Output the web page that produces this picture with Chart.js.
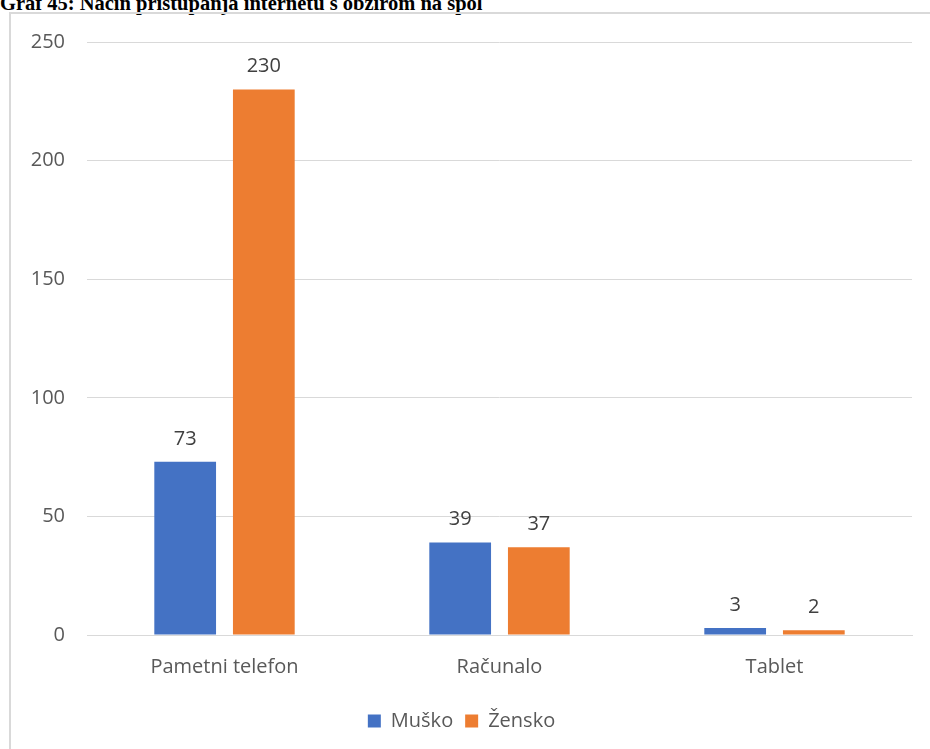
<!DOCTYPE html>
<html>
<head>
<meta charset="utf-8">
<script src="https://cdn.jsdelivr.net/npm/chart.js@4"></script>
<style>
  body { margin: 0; background: #fff; width: 930px; height: 749px; overflow: hidden; position: relative; }
  #title { position: absolute; left: 0; top: -8px; font: bold 20.5px "Liberation Serif", serif; color: #000; white-space: nowrap; }
  #box { position: absolute; left: 9px; top: 12px; width: 930px; height: 745px; border: 2px solid #d9d9d9; box-sizing: border-box; }
  #wrap { position: absolute; left: 11px; top: 14px; width: 919px; height: 735px; }
</style>
</head>
<body>
<div id="title">Graf 45: Način pristupanja internetu s obzirom na spol</div>
<div id="box"></div>
<div id="wrap"><canvas id="chart"></canvas></div>
<script>
const categories = ["Pametni telefon", "Računalo", "Tablet"];
const musko = [73, 39, 3];
const zensko = [230, 37, 2];
const yTicks = [0, 50, 100, 150, 200, 250];

const labelFont = '"Open Sans", sans-serif';

// draws the value above each bar
const valueLabels = {
    id: "valueLabels",
    afterDatasetsDraw(chart) {
        const ctx = chart.ctx;
        ctx.save();
        ctx.font = `20px ${labelFont}`;
        ctx.fillStyle = "#404040";
        ctx.textAlign = "center";
        ctx.textBaseline = "bottom";
        chart.data.datasets.forEach((ds, i) => {
            chart.getDatasetMeta(i).data.forEach((bar, j) => {
                ctx.fillText(ds.data[j], bar.x, bar.y - 13);
            });
        });
        ctx.restore();
    }
};

new Chart(document.getElementById("chart"), {
    type: "bar",
    data: {
        labels: categories,
        datasets: [
            { label: "Muško", data: musko, backgroundColor: "#4472c4", categoryPercentage: 0.572, barPercentage: 0.785 },
            { label: "Žensko", data: zensko, backgroundColor: "#ed7d31", categoryPercentage: 0.572, barPercentage: 0.785 }
        ]
    },
    options: {
        responsive: true,
        maintainAspectRatio: false,
        animation: false,
        layout: { padding: { top: 0, right: 18, left: 0, bottom: 8 } },
        scales: {
            x: {
                grid: { display: false, drawTicks: false },
                border: { color: "#d9d9d9", width: 1 },
                ticks: { color: "#595959", font: { family: labelFont, size: 20 }, padding: 20 }
            },
            y: {
                min: 0,
                max: 250,
                afterBuildTicks: scale => { scale.ticks = yTicks.map(v => ({ value: v })); },
                afterFit: scale => { scale.width = 76; scale.paddingTop = 28; },
                grid: { color: "#d9d9d9", drawTicks: false },
                border: { display: false },
                ticks: { color: "#595959", font: { family: labelFont, size: 20 }, padding: 22 }
            }
        },
        plugins: {
            legend: {
                position: "bottom",
                labels: {
                    color: "#595959",
                    font: { family: labelFont, size: 20 },
                    boxWidth: 13,
                    boxHeight: 13,
                    padding: 12
                }
            },
            tooltip: { enabled: false }
        }
    },
    plugins: [valueLabels]
});
</script>
</body>
</html>
